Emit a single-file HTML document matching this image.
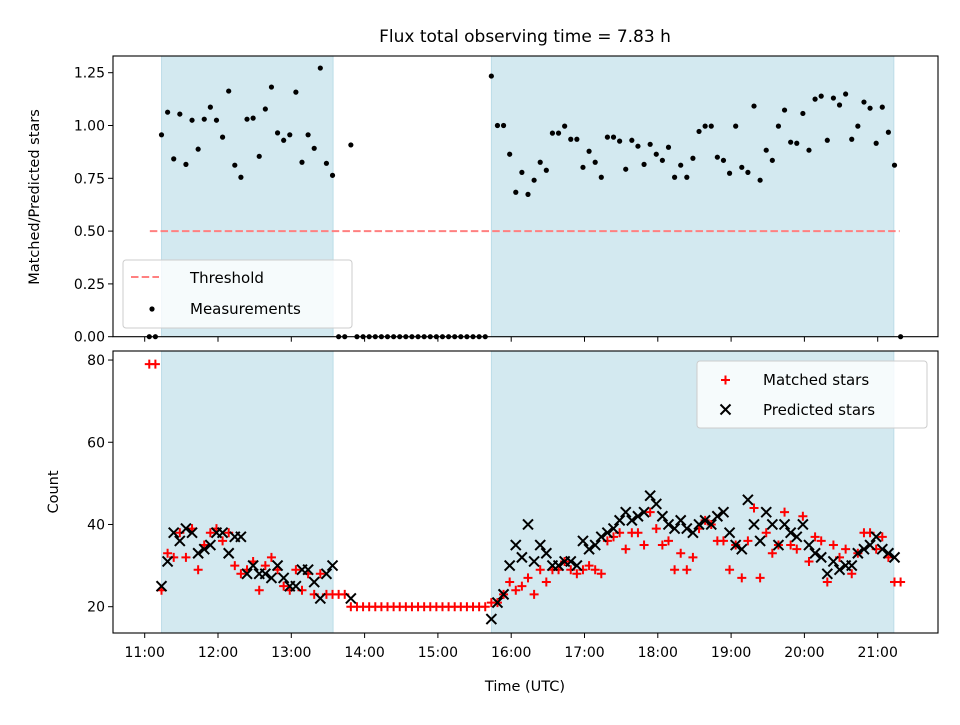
<!DOCTYPE html>
<html><head><meta charset="utf-8"><style>
body{margin:0;background:#fff}
svg text{font-family:"DejaVu Sans","Liberation Sans",sans-serif;fill:#000}
</style></head><body>
<svg id="fig" width="960" height="720" xmlns="http://www.w3.org/2000/svg"></svg>
<script>
const ratio=[0,0,
.956,1.063,.842,1.054,.816,1.025,.888,1.030,1.087,1.025,.945,1.163,.812,.755,1.030,1.035,.854,1.078,1.182,.965,.930,.956,1.158,.826,.956,.892,1.272,.821,.764,
0,0,.908,
0,0,0,0,0,0,0,0,0,0,0,0,0,0,0,0,0,0,0,0,0,0,
1.234,
1.0,1.0,.864,.684,.778,.674,.741,.826,.788,.964,.964,.997,.935,.935,.802,.878,.826,.755,.945,.945,.926,.793,.93,.902,.816,.911,.864,.835,.897,.755,.812,.755,.845,.972,.997,.997,.85,.835,.774,.997,.802,.778,1.092,.741,.883,.835,.997,1.073,.921,.916,1.057,.883,1.125,1.139,.93,1.13,1.097,1.149,.935,.997,1.111,1.082,.916,1.087,.968,.812,
0];
const matched=[79,79,
24,33,32,38,32,39,29,35,38,39,36,38,30,28,29,31,24,30,32,29,25,24,29,24,28,23,28,23,23,
23,23,20,
20,20,20,20,20,20,20,20,20,20,20,20,20,20,20,20,20,20,20,20,20,20,
21,
21,23,26,24,25,27,23,29,26,29,29,31,29,28,29,30,29,28,36,37,38,34,38,38,35,43,39,35,36,29,33,29,32,39,41,40,36,36,29,35,27,36,44,27,38,33,35,43,35,34,42,31,37,36,26,35,32,34,28,33,38,38,34,37,32,26,
26];
const predicted=[null,null,
25,31,38,36,39,38,33,34,35,38,38,33,37,37,28,30,28,28,27,30,27,25,25,29,29,26,22,28,30,
null,null,22,
null,null,null,null,null,null,null,null,null,null,null,null,null,null,null,null,null,null,null,null,null,null,
17,
21,23,30,35,32,40,31,35,33,30,30,31,31,30,36,34,35,37,38,39,41,43,41,42,43,47,45,42,40,39,41,39,38,40,41,40,42,43,38,35,34,46,40,36,43,40,35,40,38,37,40,35,33,32,28,31,29,30,30,33,34,35,37,34,33,32,
null];
const startHour=11+3.75/60, cadenceMin=5;
const spans=[[11.23,13.57],[15.73,21.22]];
const threshold=0.5, thrRange=[11.07,21.3];
const topTicks=[0,0.25,0.5,0.75,1.0,1.25];
const botTicks=[20,40,60,80];
const xTicks=[11,12,13,14,15,16,17,18,19,20,21];

const NS="http://www.w3.org/2000/svg";
const svg=document.getElementById('fig');
function el(tag,attrs,parent){const e=document.createElementNS(NS,tag);for(const k in attrs)e.setAttribute(k,attrs[k]);(parent||svg).appendChild(e);return e;}
const L=113,R=938;
const x=h=>144.7+(h-11)*73.3;
const T={top:56,bot:336.7}, B={top:351,bot:633};
const yT=v=>336.7-211.2*v;
const yB=v=>606.7-(v-20)*4.111;
const tOf=i=>startHour+i*cadenceMin/60;

function panel(P,name){
  const g=el('g',{});
  
  
  spans.forEach((s,k)=>{const r=el('rect',{x:x(s[0]),y:P.top,width:x(s[1])-x(s[0]),height:P.bot-P.top,fill:'#d3e9f0',stroke:'#bcdde8','stroke-width':1},g);
    
    });
  return g;
}
const gTop=panel(T,'ratio-panel');
const gBot=panel(B,'count-panel');

// threshold
const th=el('line',{x1:x(thrRange[0]),x2:x(thrRange[1]),y1:yT(threshold),y2:yT(threshold),stroke:'#ff8080','stroke-width':2,'stroke-dasharray':'7.5,3.2'},gTop);


// ratio points
ratio.forEach((v,i)=>{const c=el('circle',{cx:x(tOf(i)),cy:yT(v),r:2.6,fill:'#000'},gTop);
  
  });
// bottom markers
const clip=el('clipPath',{id:'cb'});el('rect',{x:L,y:B.top,width:R-L,height:B.bot-B.top},clip);
const gm=el('g',{'clip-path':'url(#cb)'},gBot);
matched.forEach((v,i)=>{if(v==null)return;const cx=x(tOf(i)),cy=yB(v);
  const p=el('path',{d:`M${cx-4.5},${cy}H${cx+4.5}M${cx},${cy-4.5}V${cy+4.5}`,stroke:'#ff0000','stroke-width':2},gm);
  
  });
predicted.forEach((v,i)=>{if(v==null)return;const cx=x(tOf(i)),cy=yB(v);
  const p=el('path',{d:`M${cx-5},${cy-5}L${cx+5},${cy+5}M${cx-5},${cy+5}L${cx+5},${cy-5}`,stroke:'#000','stroke-width':2},gm);
  
  });

// axes frames
[[T,'ratio-axes-frame'],[B,'count-axes-frame']].forEach(([P,n])=>{const r=el('rect',{x:L,y:P.top,width:R-L,height:P.bot-P.top,fill:'none',stroke:'#000','stroke-width':1.1});
  
  });
// x ticks
xTicks.forEach(h=>{
  el('line',{x1:x(h),x2:x(h),y1:T.bot,y2:T.bot+5,stroke:'#000','stroke-width':1});
  el('line',{x1:x(h),x2:x(h),y1:B.bot,y2:B.bot+5,stroke:'#000','stroke-width':1});
  const t=el('text',{x:x(h),y:B.bot+24,'text-anchor':'middle','font-size':'14'});
  t.textContent=(h<10?'0':'')+h+':00';
  
  
});
topTicks.forEach(v=>{
  el('line',{x1:L-5,x2:L,y1:yT(v),y2:yT(v),stroke:'#000','stroke-width':1});
  const t=el('text',{x:L-8,y:yT(v)+5,'text-anchor':'end','font-size':'14'});
  t.textContent=v.toFixed(2);
  
  
});
botTicks.forEach(v=>{
  el('line',{x1:L-5,x2:L,y1:yB(v),y2:yB(v),stroke:'#000','stroke-width':1});
  const t=el('text',{x:L-8,y:yB(v)+5,'text-anchor':'end','font-size':'14'});
  t.textContent=v;
  
  
});
</script>
<svg style="position:absolute;left:0;top:0" width="960" height="720" xmlns="http://www.w3.org/2000/svg">
<text x="525" y="42" text-anchor="middle" font-size="17">Flux total observing time = 7.83 h</text>
<text transform="translate(39,197) rotate(-90)" text-anchor="middle" font-size="14.5">Matched/Predicted stars</text>
<text transform="translate(58,492) rotate(-90)" text-anchor="middle" font-size="14.5">Count</text>
<text x="525" y="691" text-anchor="middle" font-size="14.5">Time (UTC)</text>
<g>
<rect x="123" y="260" width="229" height="68" rx="3" fill="#ffffff" fill-opacity="0.8" stroke="#cccccc"/>
<line x1="131" x2="159" y1="277" y2="277" stroke="#ff8080" stroke-width="2" stroke-dasharray="7.5,3.2"/>
<text x="190" y="283" font-size="15">Threshold</text>
<circle cx="152" cy="309" r="2.6" fill="#000"/>
<text x="190" y="314" font-size="15">Measurements</text>
</g>
<g>
<rect x="697" y="361" width="230" height="67" rx="3" fill="#ffffff" fill-opacity="0.8" stroke="#cccccc"/>
<path d="M721,380H730M725.5,375.5V384.5" stroke="#ff0000" stroke-width="2"/>
<text x="763" y="385" font-size="15">Matched stars</text>
<path d="M720.5,404.5L730.5,414.5M720.5,414.5L730.5,404.5" stroke="#000" stroke-width="2"/>
<text x="763" y="415" font-size="15">Predicted stars</text>
</g>
</svg>
</body></html>
